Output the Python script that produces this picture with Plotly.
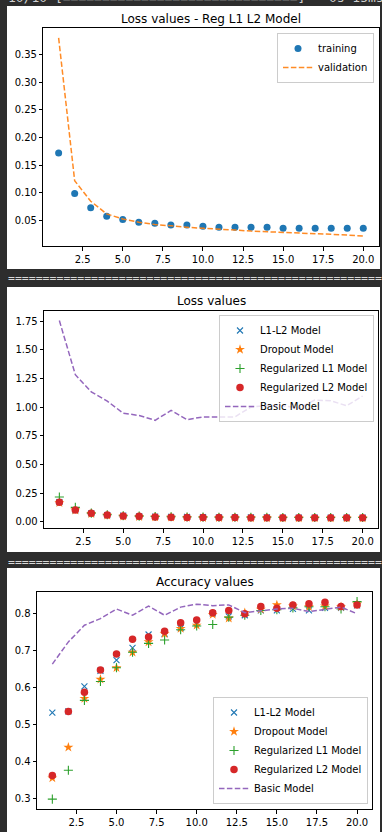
import plotly.graph_objects as go

W, H = 382, 832

epochs = list(range(1, 21))

# Plot 1: Loss values - Reg L1 L2 Model
train_loss = [0.172, 0.099, 0.073, 0.058, 0.052, 0.047, 0.045, 0.042, 0.042, 0.040,
              0.038, 0.038, 0.038, 0.038, 0.036, 0.036, 0.036, 0.036, 0.036, 0.036]
val_loss = [0.380, 0.122, 0.085, 0.062, 0.053, 0.047, 0.043, 0.040, 0.038, 0.036,
            0.035, 0.033, 0.031, 0.030, 0.029, 0.027, 0.026, 0.025, 0.024, 0.022]

# Plot 2: Loss values
loss_l1l2 = [0.170, 0.098, 0.073, 0.058, 0.052, 0.047, 0.045, 0.042, 0.042, 0.040,
             0.038, 0.038, 0.038, 0.038, 0.036, 0.036, 0.036, 0.036, 0.036, 0.036]
loss_dropout = [0.165, 0.100, 0.070, 0.055, 0.047, 0.043, 0.040, 0.038, 0.036, 0.035,
                0.034, 0.034, 0.033, 0.033, 0.032, 0.032, 0.032, 0.031, 0.031, 0.031]
loss_l1 = [0.215, 0.125, 0.075, 0.060, 0.052, 0.048, 0.045, 0.043, 0.041, 0.040,
           0.039, 0.039, 0.038, 0.038, 0.037, 0.037, 0.037, 0.036, 0.036, 0.036]
loss_l2 = [0.170, 0.102, 0.073, 0.058, 0.050, 0.048, 0.040, 0.039, 0.037, 0.036,
           0.036, 0.036, 0.035, 0.035, 0.035, 0.035, 0.034, 0.034, 0.034, 0.034]
loss_basic = [1.754, 1.282, 1.132, 1.052, 0.946, 0.926, 0.884, 0.970, 0.890, 0.914,
              0.914, 0.914, 0.999, 1.014, 1.011, 0.990, 1.061, 1.055, 1.011, 1.096]

# Plot 3: Accuracy values
acc_l1l2 = [0.532, 0.535, 0.603, 0.645, 0.674, 0.707, 0.743, 0.745, 0.760, 0.775,
            0.800, 0.792, 0.795, 0.808, 0.808, 0.812, 0.808, 0.815, 0.815, 0.822]
acc_dropout = [0.355, 0.438, 0.570, 0.622, 0.653, 0.695, 0.723, 0.745, 0.759, 0.768,
               0.797, 0.787, 0.802, 0.811, 0.823, 0.820, 0.818, 0.820, 0.818, 0.825]
acc_l1 = [0.298, 0.376, 0.565, 0.616, 0.653, 0.695, 0.719, 0.728, 0.756, 0.766,
          0.770, 0.790, 0.795, 0.808, 0.810, 0.815, 0.818, 0.818, 0.812, 0.832]
acc_l2 = [0.362, 0.535, 0.587, 0.647, 0.690, 0.730, 0.736, 0.752, 0.775, 0.782,
          0.802, 0.808, 0.799, 0.819, 0.814, 0.823, 0.826, 0.830, 0.819, 0.823]
acc_basic = [0.663, 0.723, 0.768, 0.786, 0.812, 0.795, 0.820, 0.795, 0.817, 0.825,
             0.821, 0.823, 0.802, 0.808, 0.812, 0.814, 0.805, 0.811, 0.817, 0.799]

titles = ["Loss values - Reg L1 L2 Model", "Loss values", "Accuracy values"]
model_names = ["L1-L2 Model", "Dropout Model", "Regularized L1 Model",
               "Regularized L2 Model", "Basic Model"]

BLUE, ORANGE, GREEN, RED, PURPLE = "#1f77b4", "#ff7f0e", "#2ca02c", "#d62728", "#9467bd"
BG = "#2d2d2d"
FONT = "DejaVu Sans"
DASH = "5.5px,2.4px"


def fx(px):
    return px / W


def fy(py):
    return 1 - py / H


def mpl_range(*series):
    vals = [v for s in series for v in s]
    lo, hi = min(vals), max(vals)
    m = 0.05 * (hi - lo)
    return [lo - m, hi + m]


fig = go.Figure()

# ---- Plot 1
fig.add_trace(go.Scatter(x=epochs, y=train_loss, mode="markers", name="training",
                         marker=dict(color=BLUE, size=7), xaxis="x", yaxis="y",
                         legend="legend"))
fig.add_trace(go.Scatter(x=epochs, y=val_loss, mode="lines", name="validation",
                         line=dict(color=ORANGE, width=1.5, dash=DASH),
                         opacity=0.9, xaxis="x", yaxis="y", legend="legend"))

# ---- Plot 2 & 3
def add_models(series, xa, ya, leg):
    l1l2, drop, l1, l2, basic = series
    fig.add_trace(go.Scatter(x=epochs, y=l1l2, mode="markers", name=model_names[0],
                             marker=dict(symbol="x-thin", size=6, color=BLUE,
                                         line=dict(color=BLUE, width=1.1)),
                             xaxis=xa, yaxis=ya, legend=leg))
    fig.add_trace(go.Scatter(x=epochs, y=drop, mode="markers", name=model_names[1],
                             marker=dict(symbol="star", size=7.5, color=ORANGE,
                                         line=dict(width=0)),
                             xaxis=xa, yaxis=ya, legend=leg))
    fig.add_trace(go.Scatter(x=epochs, y=l1, mode="markers", name=model_names[2],
                             marker=dict(symbol="cross-thin", size=6.5, color=GREEN,
                                         line=dict(color=GREEN, width=1.1)),
                             xaxis=xa, yaxis=ya, legend=leg))
    fig.add_trace(go.Scatter(x=epochs, y=l2, mode="markers", name=model_names[3],
                             marker=dict(symbol="circle", size=7.5, color=RED),
                             xaxis=xa, yaxis=ya, legend=leg))
    fig.add_trace(go.Scatter(x=epochs, y=basic, mode="lines", name=model_names[4],
                             line=dict(color=PURPLE, width=1.5, dash=DASH),
                             xaxis=xa, yaxis=ya, legend=leg))


add_models([loss_l1l2, loss_dropout, loss_l1, loss_l2, loss_basic], "x2", "y2", "legend2")
add_models([acc_l1l2, acc_dropout, acc_l1, acc_l2, acc_basic], "x3", "y3", "legend3")

# axes geometry in pixels: (left, right, top, bottom)
boxes = [(43.4, 378.5, 28, 246), (44.2, 377.8, 310.7, 528), (37.1, 372.3, 591.7, 809)]
yranges = [mpl_range(train_loss, val_loss),
           mpl_range(loss_l1l2, loss_dropout, loss_l1, loss_l2, loss_basic),
           mpl_range(acc_l1l2, acc_dropout, acc_l1, acc_l2, acc_basic)]
ydticks = [(0.05, ".2f"), (0.25, ".2f"), (0.1, ".1f")]

axis_common = dict(showline=True, mirror=True, linecolor="black", linewidth=1,
                   ticks="outside", ticklen=3.5, tickwidth=0.8, tickcolor="black",
                   showgrid=False, zeroline=False,
                   tickfont=dict(family=FONT, size=10, color="black"))

layout = dict(
    width=W, height=H, autosize=False,
    margin=dict(l=0, r=0, t=0, b=0, pad=0),
    paper_bgcolor=BG, plot_bgcolor="white",
    font=dict(family=FONT, size=10, color="black"),
    showlegend=True,
)
for i, (b, yr, (dt, fmt)) in enumerate(zip(boxes, yranges, ydticks)):
    s = "" if i == 0 else str(i + 1)
    l, r, t, bt = b
    layout["xaxis" + s] = dict(axis_common, domain=[fx(l), fx(r)],
                               range=mpl_range(epochs), tick0=0, dtick=2.5,
                               tickformat=".1f", anchor="y" + s)
    layout["yaxis" + s] = dict(axis_common, domain=[fy(bt), fy(t)], range=yr,
                               tick0=0, dtick=dt, tickformat=fmt, anchor="x" + s)

leg_common = dict(bgcolor="rgba(255,255,255,0.8)", bordercolor="#cccccc",
                  borderwidth=1, font=dict(family=FONT, size=10, color="black"),
                  xanchor="right", itemwidth=30)
layout["legend"] = dict(leg_common, x=fx(374), y=fy(33), yanchor="top")
layout["legend2"] = dict(leg_common, x=fx(374), y=fy(315), yanchor="top")
layout["legend3"] = dict(leg_common, x=fx(368), y=fy(804), yanchor="bottom")

fig.update_layout(**layout)

# white panels behind each chart
panels = [(7, 380, 6, 269), (7, 380, 287, 552), (7, 380, 568, 832)]
for (x0, x1, y0, y1) in panels:
    fig.add_shape(type="rect", xref="paper", yref="paper", layer="below",
                  x0=fx(x0), x1=fx(x1), y0=fy(y1), y1=fy(y0),
                  fillcolor="white", line=dict(width=0))

# titles
title_y = [19, 300.7, 581.7]
for b, ty, txt in zip(boxes, title_y, titles):
    fig.add_annotation(text=txt, xref="paper", yref="paper",
                       x=fx((b[0] + b[1]) / 2), y=fy(ty), xanchor="center",
                       yanchor="middle", showarrow=False,
                       font=dict(family=FONT, size=12, color="black"))

# notebook output text (partly scrolled off the top, as in the screenshot)
MONO = "DejaVu Sans Mono"
fig.add_annotation(text="10/10 [" + "=" * 30 + "] - 0s 15ms/step", xref="paper",
                   yref="paper", x=fx(6), y=fy(-3), xanchor="left", yanchor="middle",
                   showarrow=False, font=dict(family=MONO, size=13, color="#cfcfcf"))
for sy in [277.5, 562]:
    fig.add_annotation(text="=" * 54, xref="paper", yref="paper", x=fx(6), y=fy(sy),
                       xanchor="left", yanchor="middle", showarrow=False,
                       font=dict(family=MONO, size=11.5, color="#d8d8d8"))

fig.write_html("out.html", config={"displayModeBar": False},
               post_script="document.body.style.margin='0';document.body.style.overflow='hidden';")
